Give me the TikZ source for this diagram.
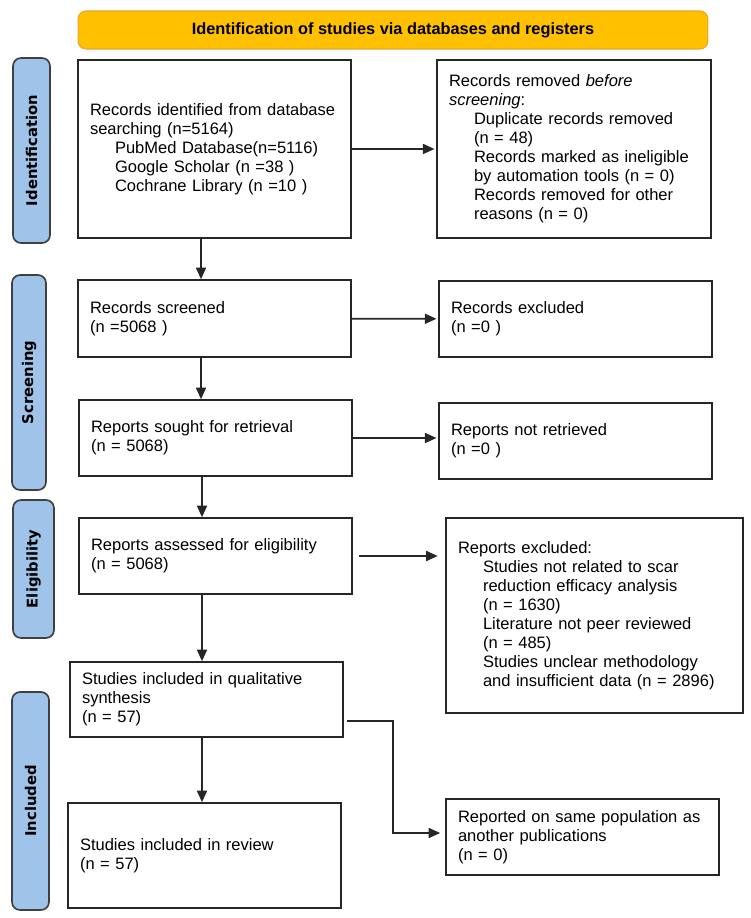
\documentclass[tikz,border=0pt]{standalone}
\usepackage{fontspec}
\setmainfont{Liberation Sans}
\newfontfamily\tabfont{DejaVu Sans}
\usetikzlibrary{arrows.meta}
\definecolor{tabblue}{RGB}{160,195,234}
\definecolor{titlegold}{RGB}{255,192,0}
\definecolor{titleedge}{RGB}{226,168,40}
\newcommand{\inset}{\hspace*{0.5cm}}
\tikzset{line/.style={line width=0.95pt, black!85}}
\tikzset{arr/.style={line, -{Triangle[length=0.23cm,width=0.2cm]}}}
\tikzset{box/.style={draw=black!85, line width=0.95pt, text width=4.98cm, inner xsep=0.24cm, align=left, font=\fontsize{9.4}{10.8}\selectfont}}
\tikzset{stage/.style={draw=black!75, line width=0.95pt, fill=tabblue, rounded corners=0.16cm, rotate=90, font=\tabfont\bfseries\fontsize{8.4}{10}\selectfont, inner sep=0pt}}
\tikzset{banner/.style={draw=titleedge, line width=0.6pt, fill=titlegold, rounded corners=0.16cm, font=\bfseries\fontsize{9.3}{11}\selectfont, minimum width=12.6cm, minimum height=0.76cm}}

\begin{document}
\begin{tikzpicture}[x=0.02cm, y=-0.02cm]
\useasboundingbox (0,0) rectangle (750,918);
\node[banner] (title) at (393,30) {Identification of studies via databases and registers};

\node[stage, minimum width=3.7cm, minimum height=0.74cm] (identification) at (31.5,150.5) {Identification};
\node[stage, minimum width=4.3cm, minimum height=0.68cm] (screening) at (29,382.5) {Screening};
\node[stage, minimum width=2.76cm, minimum height=0.82cm] (eligibility) at (33.5,569) {Eligibility};
\node[stage, minimum width=4.36cm, minimum height=0.74cm] (included) at (30.5,801) {Included};

\node[box, minimum height=3.56cm] (identified) at (214.5,149) {Records identified from database\\ searching (n=5164)\\ \inset PubMed Database(n=5116)\\ \inset Google Scholar (n =38 )\\ \inset Cochrane Library (n =10 )};
\node[box, text width=5cm, minimum height=3.56cm] (removed) at (574,149) {Records removed \textit{before}\\ \textit{screening}:\\ \inset Duplicate records removed\\ \inset (n = 48)\\ \inset Records marked as ineligible\\ \inset by automation tools (n = 0)\\ \inset Records removed for other\\ \inset reasons (n = 0)};
\node[box, minimum height=1.54cm] (screened) at (214.5,318.5) {Records screened\\ (n =5068 )};
\node[box, minimum height=1.52cm] (excluded) at (575.5,319) {Records excluded\\ (n =0 )};
\node[box, minimum height=1.52cm] (sought) at (215.5,438) {Reports sought for retrieval\\ (n = 5068)};
\node[box, minimum height=1.52cm] (notretrieved) at (575.5,441) {Reports not retrieved\\ (n =0 )};
\node[box, minimum height=1.52cm] (assessed) at (215.5,556) {Reports assessed for eligibility\\ (n = 5068)};
\node[box, text width=5.46cm, minimum height=3.9cm] (reportsexcl) at (594.5,615.5) {Reports excluded:\\ \inset Studies not related to scar\\ \inset reduction efficacy analysis\\ \inset (n = 1630)\\ \inset Literature not peer reviewed\\ \inset (n = 485)\\ \inset Studies unclear methodology\\ \inset and insufficient data (n = 2896)\\[0.3cm]};
\node[box, minimum height=1.5cm] (qualitative) at (206.5,699.5) {Studies included in qualitative\\ synthesis\\ (n = 57)};
\node[box, minimum height=2.1cm] (review) at (204.5,855.5) {Studies included in review\\ (n = 57)};
\node[box, minimum height=1.52cm] (samepop) at (582.5,837) {Reported on same population as\\ another publications\\ (n = 0)};

\draw[arr, shorten >=1pt] (identified) -- (removed);
\draw[arr, shorten >=1pt] (screened) -- (excluded);
\draw[arr, shorten >=1pt] (sought.east) -- (sought.east -| notretrieved.west);
\draw[arr, shorten <=0.12cm, shorten >=0.15cm] (assessed.east) -- (assessed.east -| reportsexcl.west);
\draw[arr] ([xshift=-0.27cm]identified.south) -- ([xshift=-0.27cm]identified.south |- screened.north);
\draw[arr] ([xshift=-0.27cm]screened.south) -- ([xshift=-0.27cm]screened.south |- sought.north);
\draw[arr] ([xshift=-0.27cm]sought.south) -- ([xshift=-0.27cm]sought.south |- assessed.north);
\draw[arr] ([xshift=-0.27cm]assessed.south) -- ([xshift=-0.27cm]assessed.south |- qualitative.north);
\draw[arr] ([xshift=-0.09cm]qualitative.south) -- ([xshift=-0.09cm]qualitative.south |- review.north);
\draw[arr, shorten <=0.06cm, shorten >=0.1cm] ([yshift=-0.43cm]qualitative.east) -- ++(49,0) |- ([yshift=0.08cm]samepop.west);
\end{tikzpicture}
\end{document}
